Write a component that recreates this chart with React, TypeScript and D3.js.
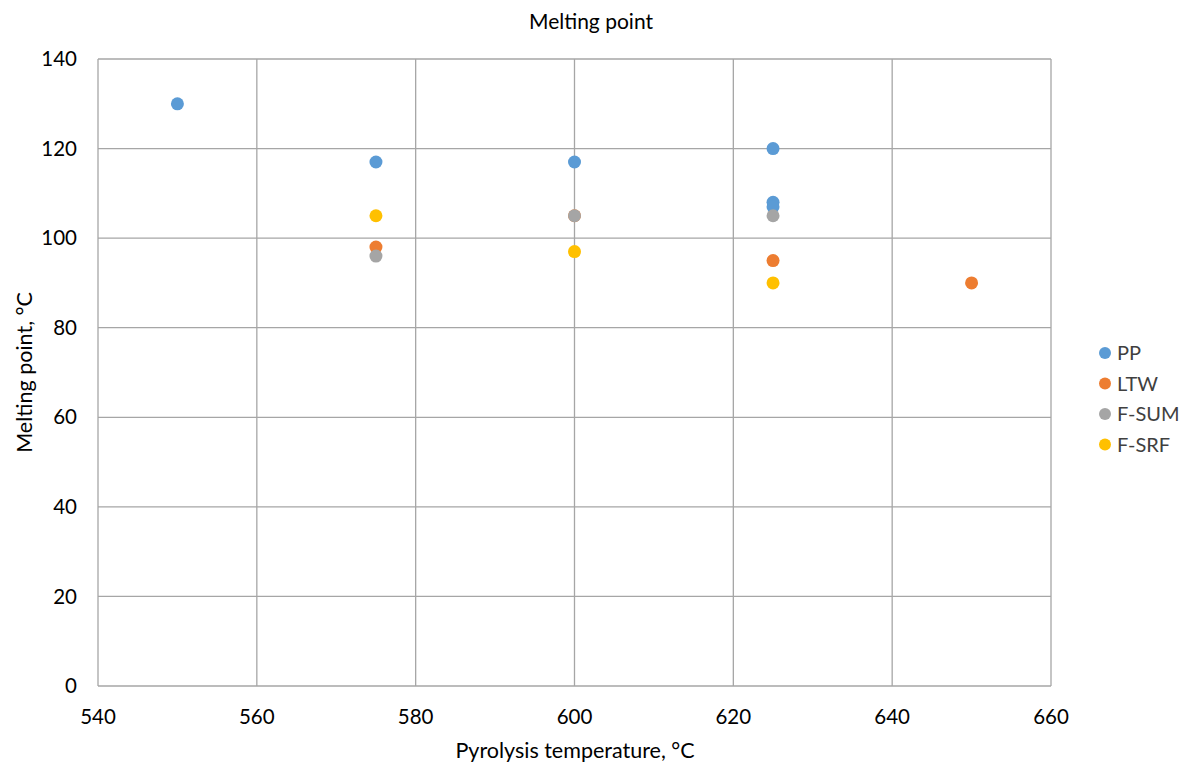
import React from "react";
import * as d3 from "d3";

const seriesNames = ["PP", "LTW", "F-SUM", "F-SRF"];
const seriesColors = ["#5B9BD5", "#ED7D31", "#A5A5A5", "#FFC000"];
const ppX = [550, 575, 600, 625, 625, 625];
const ppY = [130, 117, 117, 120, 108, 107];
const ltwX = [575, 600, 625, 650];
const ltwY = [98, 105, 95, 90];
const fsumX = [575, 600, 625];
const fsumY = [96, 105, 105];
const fsrfX = [575, 600, 625];
const fsrfY = [105, 97, 90];
const xTicks = [540, 560, 580, 600, 620, 640, 660];
const yTicks = [0, 20, 40, 60, 80, 100, 120, 140];

const W = 1182, H = 762;
const left = 98, right = 1051, top = 59, bottom = 686;
const FONT = "Lato, 'Open Sans', sans-serif";

export default function App() {
  const x = d3.scaleLinear().domain([540, 660]).range([left, right]);
  const y = d3.scaleLinear().domain([0, 140]).range([bottom, top]);
  const series = [
    { xs: ppX, ys: ppY },
    { xs: ltwX, ys: ltwY },
    { xs: fsumX, ys: fsumY },
    { xs: fsrfX, ys: fsrfY },
  ];
  const grid = "#A6A6A6";
  return (
    <svg width={W} height={H} style={{ position: "absolute", left: 0, top: 0, background: "#fff" }} fontFamily={FONT}>
      <rect x={0} y={0} width={W} height={H} fill="#fff" />
      {yTicks.map((t) => (
        <line key={"gy" + t} x1={left} x2={right} y1={y(t)} y2={y(t)} stroke={grid} strokeWidth={1.3} />
      ))}
      {xTicks.map((t) => (
        <line key={"gx" + t} x1={x(t)} x2={x(t)} y1={top} y2={bottom} stroke={grid} strokeWidth={1.3} />
      ))}
      {yTicks.map((t) => (
        <text key={"ty" + t} x={77} y={y(t)} dy="0.35em" textAnchor="end" fontSize={20.5} fill="#000">{t}</text>
      ))}
      {xTicks.map((t) => (
        <text key={"tx" + t} x={x(t)} y={717} dy="0.35em" textAnchor="middle" fontSize={20.5} fill="#000">{t}</text>
      ))}
      {series.map((s, i) =>
        s.xs.map((xv, j) => (
          <circle key={i + "-" + j} cx={x(xv)} cy={y(s.ys[j])} r={6.5} fill={seriesColors[i]} />
        ))
      )}
      <text x={591} y={22} dy="0.35em" textAnchor="middle" fontSize={21} fill="#000">Melting point</text>
      <text x={575} y={750} dy="0.35em" textAnchor="middle" fontSize={21.5} fill="#000">Pyrolysis temperature, °C</text>
      <text transform={`translate(24,${(top + bottom) / 2}) rotate(-90)`} dy="0.35em" textAnchor="middle" fontSize={21.5} fill="#000">Melting point, °C</text>
      {seriesNames.map((n, i) => (
        <g key={n} transform={`translate(1105,${353 + i * 30.5})`}>
          <circle cx={0} cy={0} r={6} fill={seriesColors[i]} />
          <text x={12} y={0} dy="0.35em" fontSize={20} fill="#404040">{n}</text>
        </g>
      ))}
    </svg>
  );
}
